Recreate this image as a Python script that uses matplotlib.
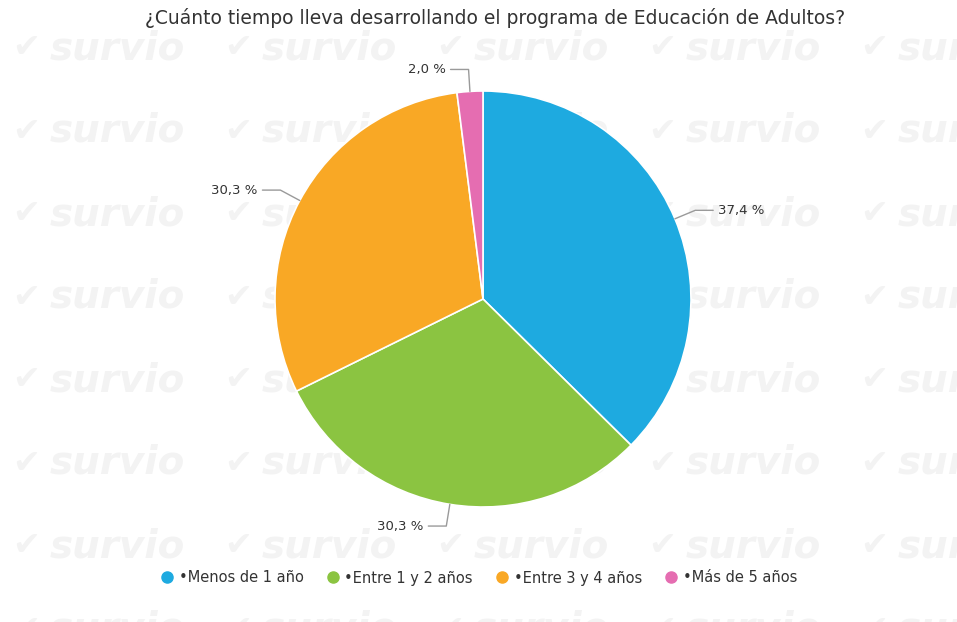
import numpy as np
import matplotlib
matplotlib.use("Agg")
import matplotlib.pyplot as plt
from matplotlib.lines import Line2D

# ── data ────────────────────────────────────────────────────────────────
title = "¿Cuánto tiempo lleva desarrollando el programa de Educación de Adultos?"
categories = ["•Menos de 1 año", "•Entre 1 y 2 años", "•Entre 3 y 4 años", "•Más de 5 años"]
values = [37.4, 30.3, 30.3, 2.0]
colors = ["#1eaae0", "#8bc441", "#f9a825", "#e56db1"]

W, H = 957, 622
CX, CY, R = 483, H - 299, 208

plt.rcParams["font.family"] = ["DejaVu Sans"]
fig = plt.figure(figsize=(W / 100, H / 100), dpi=100)
ax = fig.add_axes([0, 0, 1, 1])

# ── watermark grid ──────────────────────────────────────────────────────
for i in range(5):
    for j in range(8):
        x0 = 12 + 212 * i
        y0 = H - (48 + 83 * j)
        ax.text(x0, y0, "✔", fontsize=24, color="#f3f3f3", ha="left", va="center",
                zorder=0, fontweight="bold")
        ax.text(x0 + 38, y0, "survio", fontsize=28, color="#f3f3f3", ha="left",
                va="center", fontweight="bold", fontstyle="italic", zorder=0)

# ── pie ─────────────────────────────────────────────────────────────────
wedges, _ = ax.pie(values, colors=colors, startangle=90, counterclock=False,
                   center=(CX, CY), radius=R,
                   wedgeprops=dict(edgecolor="white", linewidth=1.2))
for w in wedges:
    w.set_zorder(2)

# data labels with elbow connectors
for w, v in zip(wedges, values):
    ang = np.deg2rad((w.theta1 + w.theta2) / 2)
    px, py = CX + R * np.cos(ang), CY + R * np.sin(ang)
    kx, ky = CX + (R + 22) * np.cos(ang), CY + (R + 22) * np.sin(ang)
    side = 1 if np.cos(ang) >= 0 else -1
    ex = kx + side * 18
    ax.plot([px, kx, ex], [py, ky, ky], color="#9a9a9a", lw=1, zorder=3,
            solid_capstyle="round")
    ax.text(ex + side * 5, ky, f"{v:.1f} %".replace(".", ","), fontsize=9.5,
            color="#333333", ha="left" if side > 0 else "right", va="center", zorder=4)

ax.set_xlim(0, W)
ax.set_ylim(0, H)
ax.set_aspect("auto")
ax.axis("off")

fig.text(495 / W, 1 - 18 / H, title, fontsize=13.5, color="#333333", ha="center", va="center")

handles = [Line2D([], [], marker="o", ls="", markersize=8, markerfacecolor=c,
                  markeredgecolor=c) for c in colors]
fig.legend(handles, categories, loc="center", bbox_to_anchor=(0.5, 1 - 578 / H),
           ncol=4, frameon=False, fontsize=10.5, labelcolor="#333333",
           handletextpad=0.3, columnspacing=1.5, handlelength=1.0)

fig.savefig("out.png", dpi=100, facecolor="white")
